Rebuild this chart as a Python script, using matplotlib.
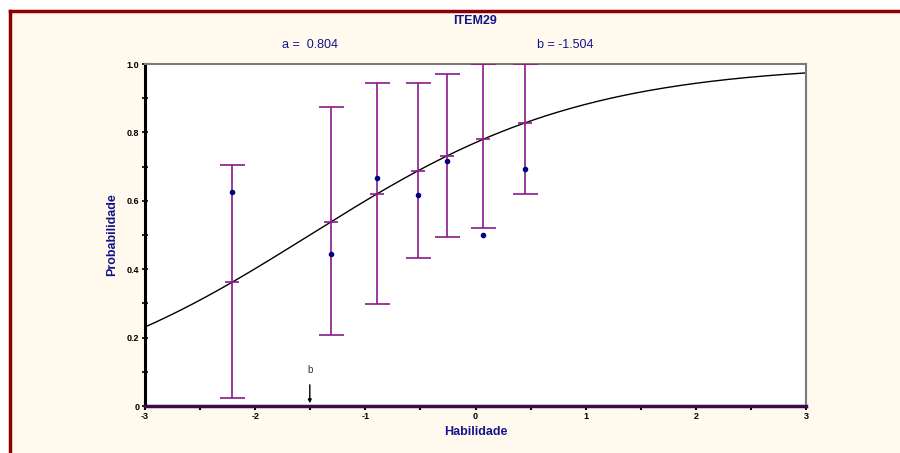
import matplotlib
matplotlib.use('Agg')
import matplotlib.pyplot as plt
import numpy as np
from matplotlib.lines import Line2D
from matplotlib.patches import Rectangle

plt.rcParams['font.family'] = ['Liberation Sans', 'DejaVu Sans']

# Item parameters
a_param = 0.804
b_param = -1.504

# Observed groups (ability, observed proportion, interval bounds)
theta = [-2.21, -1.31, -0.895, -0.523, -0.26, 0.067, 0.448]
observed = [0.626, 0.444, 0.667, 0.617, 0.716, 0.500, 0.693]
lower = [0.023, 0.208, 0.298, 0.433, 0.494, 0.520, 0.620]
upper = [0.705, 0.874, 0.944, 0.945, 0.971, 1.000, 1.000]

x_ticks = [-3, -2, -1, 0, 1, 2, 3]
y_ticks = [0, 0.2, 0.4, 0.6, 0.8, 1.0]
y_tick_labels = ['0', '0.2', '0.4', '0.6', '0.8', '1.0']

navy = '#14148a'
purple = '#8a1a8a'


def icc(x):
    return 1.0 / (1.0 + np.exp(-a_param * (np.asarray(x) - b_param)))


fig = plt.figure(figsize=(9, 4.53), dpi=100)
fig.patch.set_facecolor('white')

# cream panel with dark red frame (top and left)
fig.add_artist(Rectangle((10 / 900, 0), 1, 1 - 11 / 453, transform=fig.transFigure,
                         facecolor='#fff9ee', edgecolor='none', zorder=0))
fig.add_artist(Line2D([9.5 / 900, 1], [1 - 11 / 453, 1 - 11 / 453], transform=fig.transFigure,
                      color='#8b0000', lw=2.5))
fig.add_artist(Line2D([9.5 / 900, 9.5 / 900], [0, 1 - 11 / 453], transform=fig.transFigure,
                      color='#8b0000', lw=2.5))

ax = fig.add_axes([145 / 900, 1 - 406 / 453, 661 / 900, 342 / 453])
ax.set_facecolor('white')

# model curve
xs = np.linspace(-3, 3, 300)
ax.plot(xs, icc(xs), color='black', lw=1)

# intervals centered on the model curve
center = icc(theta)
yerr = [center - np.array(lower), np.array(upper) - center]
ax.errorbar(theta, center, yerr=yerr, fmt='none', ecolor=purple, elinewidth=1.2,
            capsize=9, capthick=1.2, zorder=3)
ax.plot(theta, center, linestyle='none', marker='_', ms=10, mew=1.2, color=purple, zorder=3)

# observed proportions
ax.plot(theta, observed, linestyle='none', marker='o', ms=3, color='#000080', zorder=4)

# difficulty marker
ax.annotate('', xy=(b_param, 0), xytext=(b_param, 0.07),
            arrowprops=dict(arrowstyle='-|>', color='black', lw=1, mutation_scale=5))
ax.text(b_param, 0.09, 'b', ha='center', va='bottom', fontsize=7, color='#333333')

ax.set_xlim(-3, 3)
ax.set_ylim(0, 1)
ax.set_xticks(x_ticks)
ax.set_xticklabels([str(t) for t in x_ticks], fontsize=6.5, fontweight='bold')
ax.set_xticks(np.arange(-2.5, 3, 1.0), minor=True)
ax.set_yticks(y_ticks)
ax.set_yticklabels(y_tick_labels, fontsize=6.5, fontweight='bold')
ax.set_yticks(np.arange(0.1, 1.0, 0.2), minor=True)
ax.tick_params(axis='x', which='both', direction='out', length=3, width=1.5, pad=1)
ax.tick_params(axis='y', which='both', direction='inout', length=4, width=1.2, pad=2)

ax.spines['left'].set_color('black')
ax.spines['left'].set_linewidth(2.2)
ax.spines['bottom'].set_color('#3b0a4f')
ax.spines['bottom'].set_linewidth(2.5)
for s in ['top', 'right']:
    ax.spines[s].set_color('#7a7a7a')
    ax.spines[s].set_linewidth(1.5)

ax.set_xlabel('Habilidade', fontsize=9, fontweight='bold', color=navy, labelpad=4)
ax.set_ylabel('Probabilidade', fontsize=9, fontweight='bold', color=navy, labelpad=6)

fig.text(475 / 900, 1 - 21 / 453, 'ITEM29', ha='center', va='center',
         fontsize=9, fontweight='bold', color=navy)
fig.text(310 / 900, 1 - 45 / 453, 'a =  0.804', ha='center', va='center',
         fontsize=9, color=navy)
fig.text(565 / 900, 1 - 45 / 453, 'b = -1.504', ha='center', va='center',
         fontsize=9, color=navy)

fig.savefig('out.png', dpi=100)
